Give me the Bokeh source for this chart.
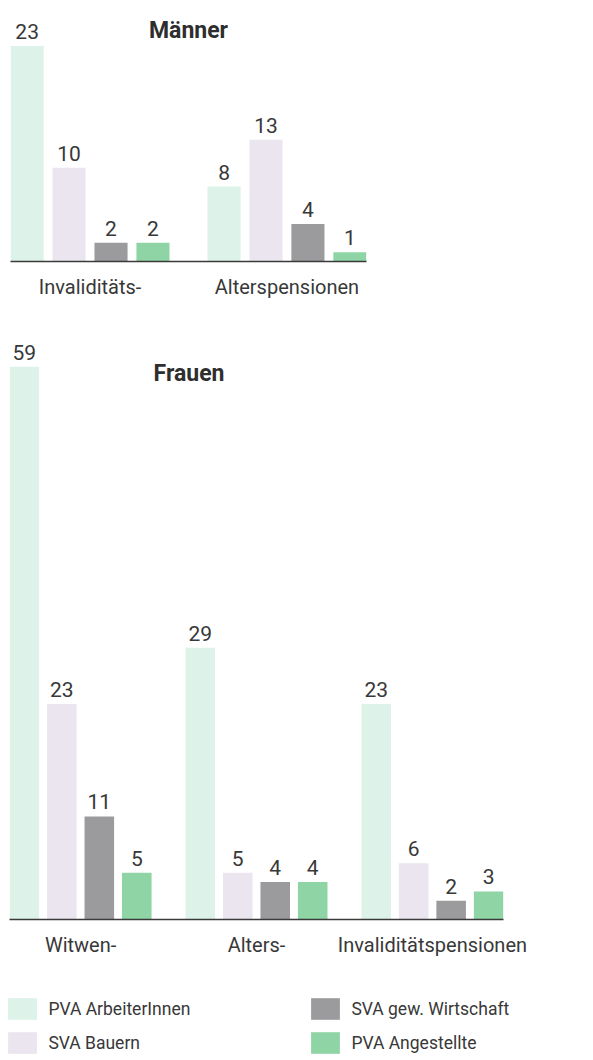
from bokeh.plotting import figure
from bokeh.models import FactorRange, Range1d, Label, Legend, LegendItem, ColumnDataSource
from bokeh.transform import dodge
from bokeh.layouts import column
from bokeh.embed import file_html
from bokeh.resources import INLINE
from bokeh.core.properties import value

# ---------------- data ----------------
series = ["PVA ArbeiterInnen", "SVA Bauern", "SVA gew. Wirtschaft", "PVA Angestellte"]
colors = ["#ddf2e8", "#eae5ef", "#9b9b9d", "#8fd4a4"]

men_categories = ["Invaliditäts-", "Alterspensionen"]
men_pva_arbeiter = [23, 8]
men_sva_bauern = [10, 13]
men_sva_gew = [2, 4]
men_pva_angestellte = [2, 1]

women_categories = ["Witwen-", "Alters-", "Invaliditätspensionen"]
women_pva_arbeiter = [59, 29, 23]
women_sva_bauern = [23, 5, 6]
women_sva_gew = [11, 4, 2]
women_pva_angestellte = [5, 4, 3]

# ---------------- style ----------------
FONT = "Roboto"
TEXT_COLOR = "#383838"
PITCH = 0.213
BAR_W = 0.168
OFFSETS = [-1.5 * PITCH, -0.5 * PITCH, 0.5 * PITCH, 1.5 * PITCH]
PAD = -0.096  # trims the categorical range to the outer bar edges (per side)


def make_chart(categories, values_list, width, height, border_left, border_right,
               border_bottom, y_end, title, title_x, title_y):
    p = figure(
        x_range=FactorRange(factors=categories, range_padding=PAD,
                            range_padding_units="absolute"),
        y_range=Range1d(0, y_end),
        width=width, height=height,
        output_backend="svg", toolbar_location=None,
        min_border_left=border_left, min_border_right=border_right,
        min_border_top=0, min_border_bottom=border_bottom,
    )
    p.frame_align = False
    for vals, color, off in zip(values_list, colors, OFFSETS):
        src = ColumnDataSource(dict(cat=categories, val=vals,
                                    lab=[str(v) for v in vals]))
        p.vbar(x=dodge("cat", off, range=p.x_range), top="val", width=BAR_W,
               source=src, fill_color=color, line_color=None)
        p.text(x=dodge("cat", off, range=p.x_range), y="val", text="lab",
               source=src, y_offset=-7, text_align="center",
               text_baseline="bottom", text_font=value(FONT),
               text_font_size="21px", text_color=TEXT_COLOR)
    p.add_layout(Label(x=title_x, y=title_y, text=title, text_font=FONT,
                       text_font_size="23px", text_font_style="bold",
                       text_align="center", text_baseline="middle",
                       text_color="#2e2e2e"))
    p.yaxis.visible = False
    p.xgrid.grid_line_color = None
    p.ygrid.grid_line_color = None
    p.outline_line_color = None
    ax = p.xaxis[0]
    ax.axis_line_color = "#3a3a3a"
    ax.axis_line_width = 1.5
    ax.major_tick_line_color = None
    ax.minor_tick_line_color = None
    ax.major_label_text_font = FONT
    ax.major_label_text_font_size = "20px"
    ax.major_label_text_color = TEXT_COLOR
    ax.major_label_standoff = 7
    return p


SCALE = 9.37  # px per unit (used only for range ends)

p1 = make_chart(men_categories,
                [men_pva_arbeiter, men_sva_bauern, men_sva_gew, men_pva_angestellte],
                width=593, height=305, border_left=10, border_right=227,
                border_bottom=44, y_end=261 / SCALE,
                title="Männer", title_x=1.0, title_y=24.7)

p2 = make_chart(women_categories,
                [women_pva_arbeiter, women_sva_bauern, women_sva_gew, women_pva_angestellte],
                width=593, height=655, border_left=9, border_right=90,
                border_bottom=41, y_end=614 / SCALE,
                title="Frauen", title_x=1.1165, title_y=58.3)

# ---------------- legend ----------------
p3 = figure(width=593, height=100, x_range=Range1d(0, 1), y_range=Range1d(0, 1),
            output_backend="svg", toolbar_location=None,
            min_border_left=0, min_border_right=0, min_border_top=0, min_border_bottom=0)
p3.frame_align = False
p3.axis.visible = False
p3.xgrid.grid_line_color = None
p3.ygrid.grid_line_color = None
p3.outline_line_color = None

rends = []
for color in colors:
    # zero-height proxy bar: only used to give the legend its swatch colour
    rends.append(p3.vbar(x=[0], top=[0], width=0.01, fill_color=color, line_color=None))


def make_legend(idx, loc):
    return Legend(
        items=[LegendItem(label=series[i], renderers=[rends[i]]) for i in idx],
        location=loc, orientation="vertical",
        glyph_width=36, glyph_height=27, label_standoff=8, spacing=7,
        padding=0, margin=0, border_line_color=None, background_fill_alpha=0,
        label_text_font=FONT, label_text_font_size="17.5px",
        label_text_color=TEXT_COLOR, label_height=27,
    )


p3.add_layout(make_legend([0, 1], (4.4, 4)), "center")
p3.add_layout(make_legend([2, 3], (307.4, 4)), "center")

layout = column(p1, p2, p3, spacing=0)
open("out.html", "w").write(file_html(layout, INLINE))
